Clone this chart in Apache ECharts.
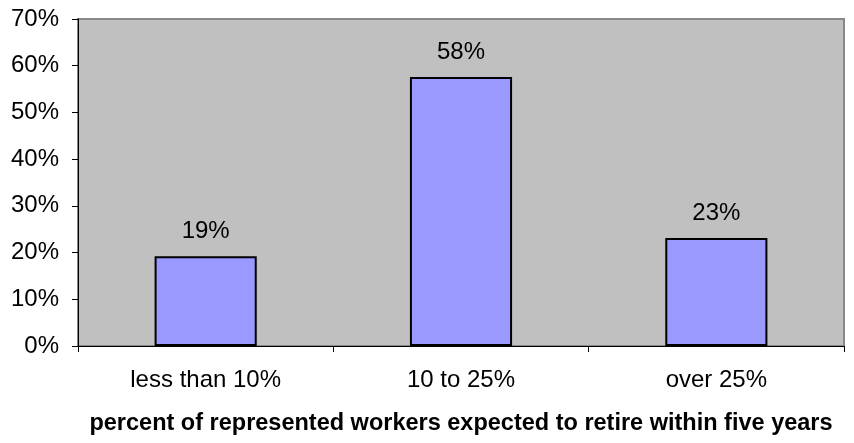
<!DOCTYPE html>
<html><head><meta charset="utf-8">
<script src="https://cdn.jsdelivr.net/npm/echarts@6/dist/echarts.min.js"></script>
<style>html,body{margin:0;padding:0;background:#fff}#c{width:854px;height:443px}</style>
</head><body><div id="c"></div>
<script>
const categories = ['less than 10%', '10 to 25%', 'over 25%'];
const values = [19.2, 57.6, 23.1];
const yTicks = [0, 10, 20, 30, 40, 50, 60, 70];
const xTitle = 'percent of represented workers expected to retire within five years';

const chart = echarts.init(document.getElementById('c'), null, {renderer: 'canvas'});
const font = '"Liberation Sans", Arial, sans-serif';
chart.setOption({
  animation: false,
  grid: {left: 78, right: 10, top: 19, bottom: 97, show: true, backgroundColor: '#c0c0c0', borderColor: '#888888', borderWidth: 2},
  xAxis: {
    type: 'category', data: categories,
    axisLine: {lineStyle: {color: '#000', width: 1}},
    axisTick: {show: true, alignWithLabel: false, length: 6, lineStyle: {color: '#000'}},
    axisLabel: {color: '#000', fontSize: 24, fontFamily: font, margin: 22},
    name: xTitle, nameLocation: 'middle', nameGap: 66,
    nameTextStyle: {color: '#000', fontSize: 23.5, fontWeight: 'bold', fontFamily: font}
  },
  yAxis: {
    type: 'value', min: yTicks[0], max: yTicks[yTicks.length - 1], interval: 10,
    axisLine: {show: true, lineStyle: {color: '#000', width: 1}},
    axisTick: {show: true, length: 6, lineStyle: {color: '#000'}},
    splitLine: {show: false},
    axisLabel: {color: '#000', fontSize: 24, fontFamily: font, margin: 19, formatter: v => v + '%'}
  },
  series: [{
    type: 'bar', data: values, barWidth: '40%',
    itemStyle: {color: '#9999ff', borderColor: '#000', borderWidth: 2},
    label: {show: true, position: 'top', distance: 13, color: '#000', fontSize: 24, fontFamily: font,
      formatter: p => Math.round(p.value) + '%'}
  }]
});
</script></body></html>
